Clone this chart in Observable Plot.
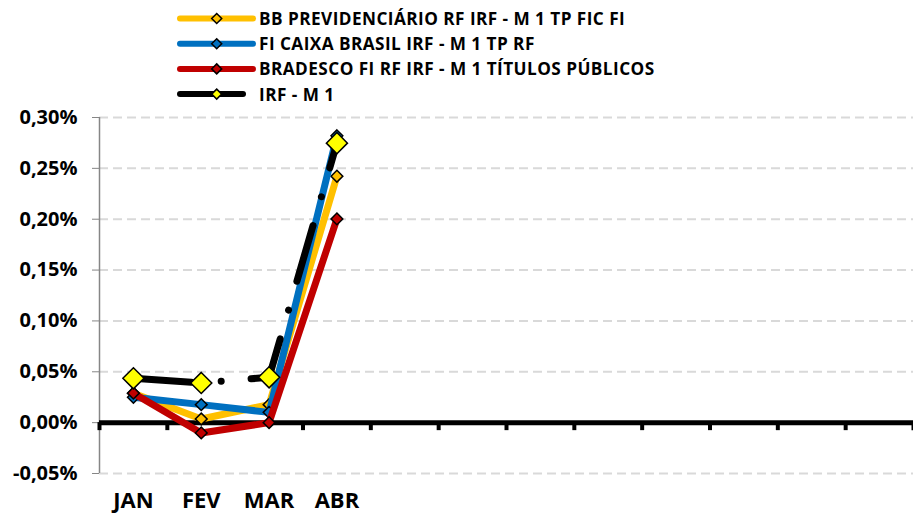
<!DOCTYPE html>
<html><head><meta charset="utf-8">
<script src="https://cdn.jsdelivr.net/npm/d3@7"></script>
<script src="https://cdn.jsdelivr.net/npm/@observablehq/plot@0.6"></script>
<style>
body{margin:0;background:#fff;font-family:"Open Sans",sans-serif;}
#wrap{position:relative;width:913px;height:519px;overflow:hidden;}
#legend{position:absolute;left:0;top:0;}
#chart{position:absolute;left:0;top:105px;}
</style></head><body>
<div id="wrap"><svg id="legend" width="913" height="105"></svg><div id="chart"></div></div>
<script>
// ---- data ----
const months = ["JAN","FEV","MAR","ABR","MAI","JUN","JUL","AGO","SET","OUT","NOV","DEZ"];
const monthLabels = ["JAN","FEV","MAR","ABR"];
const seriesNames = [
  "BB PREVIDENCIÁRIO RF IRF - M 1 TP FIC FI",
  "FI CAIXA BRASIL IRF - M 1 TP RF",
  "BRADESCO FI RF IRF - M 1 TÍTULOS PÚBLICOS",
  "IRF - M 1"
];
const bbValues       = [0.029, 0.0036, 0.0177, 0.2423];
const caixaValues    = [0.0249, 0.0177, 0.0101, 0.282];
const bradescoValues = [0.029, -0.0101, 0.0, 0.2003];
const irfValues      = [0.0436, 0.039, 0.0446, 0.2748];
const yTicks = [-0.05, 0, 0.05, 0.10, 0.15, 0.20, 0.25, 0.30];

// ---- styles ----
const lineColors = ["#FFC000", "#0070C0", "#C00000", "#000000"];
const markerFills = ["#FFC000", "#0070C0", "#C00000", "#FFFF00"];
const allValues = [bbValues, caixaValues, bradescoValues, irfValues];

const series = seriesNames.map((name, s) => allValues[s].map((v, i) => ({
  series: name, month: months[i], xi: i + 0.5, value: v
})));

const fmt = d => d.toFixed(2).replace(".", ",") + "%";
const boundaries = d3.range(months.length + 1);
const labelRows = monthLabels.map((m) => ({label: m, xi: months.indexOf(m) + 0.5}));

const marks = [
  Plot.gridY(yTicks, {stroke: "#d9d9d9", strokeOpacity: 1, strokeWidth: 2, strokeDasharray: "9,5"}),
  Plot.ruleX([0], {y1: -0.05, y2: 0.30, stroke: "#868686", strokeWidth: 1.5}),
  Plot.axisY(yTicks, {label: null, tickSize: 7, tickPadding: 15, tickFormat: fmt, fontSize: 20, fontWeight: "bold", stroke: "#868686", fill: "#000"}),
  Plot.ruleY([0], {stroke: "#000", strokeWidth: 5}),
  Plot.ruleX(boundaries, {y1: 0, y2: 0, insetBottom: -8, stroke: "#000", strokeWidth: 4}),
  Plot.text(labelRows, {x: "xi", frameAnchor: "bottom", dy: 34, text: "label", fontSize: 22, fontWeight: "bold", fill: "#000"})
];
series.forEach((rows, s) => {
  const isIndex = s === 3;
  marks.push(Plot.line(rows, {
    x: "xi", y: "value", stroke: lineColors[s], strokeWidth: 7,
    strokeLinejoin: "round", strokeLinecap: "round",
    strokeDasharray: isIndex ? "58,30,0.01,30" : null
  }));
  marks.push(Plot.dot(rows, {
    x: "xi", y: "value", symbol: "diamond2", r: isIndex ? 9.5 : 5.3,
    fill: markerFills[s], stroke: "#000", strokeWidth: 1.5
  }));
});

const chart = Plot.plot({
  width: 913, height: 414,
  marginLeft: 99, marginRight: 0, marginTop: 12, marginBottom: 46,
  x: {domain: [0, months.length], axis: null},
  y: {domain: [-0.05, 0.30], axis: null},
  style: {fontFamily: "'Open Sans', sans-serif", overflow: "visible", background: "#fff"},
  marks
});
document.getElementById("chart").appendChild(chart);

// ---- legend ----
const leg = d3.select("#legend");
seriesNames.forEach((name, s) => {
  const y = 18.5 + s * 25.2;
  const g = leg.append("g");
  g.append("line").attr("x1", 180).attr("x2", s === 3 ? 243 : 253).attr("y1", y).attr("y2", y)
    .attr("stroke", lineColors[s]).attr("stroke-width", 6).attr("stroke-linecap", "round");
  const d = 5;
  g.append("path").attr("d", `M216.7,${y - d}L${216.7 + d},${y}L216.7,${y + d}L${216.7 - d},${y}Z`)
    .attr("fill", markerFills[s]).attr("stroke", "#000").attr("stroke-width", 1.5);
  g.append("text").attr("x", 259).attr("y", y + 6.5).text(name)
    .attr("font-family", "'Open Sans', sans-serif").attr("font-weight", "bold").attr("font-size", 17.2)
    .attr("letter-spacing", "0.45px").attr("fill", "#000");
});
</script>
</body></html>
